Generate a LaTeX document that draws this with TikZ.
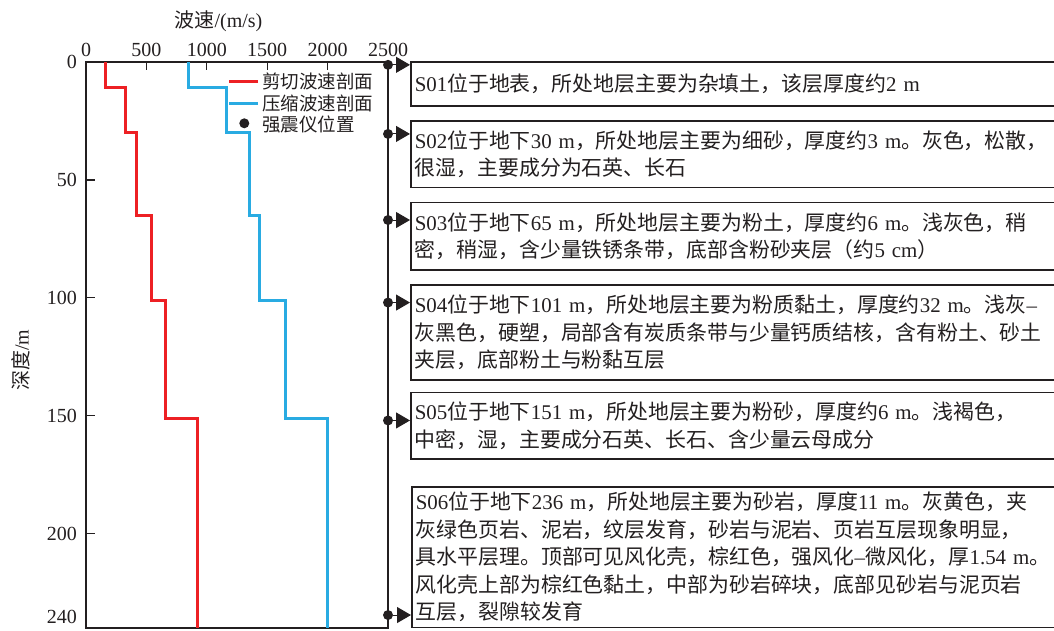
\documentclass[tikz,border=0pt]{standalone}
\usepackage{fontspec}
\setmainfont{Liberation Serif}
\newfontfamily\cjk{Noto Sans CJK SC}
\usepackage{tikz}
\usetikzlibrary{positioning, arrows.meta}
\definecolor{swave}{HTML}{ED2024}
\definecolor{pwave}{HTML}{29ABE2}
\definecolor{ink}{HTML}{231F20}
\newcommand{\zh}[1]{{\cjk #1}}

\begin{document}
\begin{tikzpicture}[x=1pt,y=-1pt,
  axis/.style={ink,line width=1.3pt},
  profile/.style={line width=3pt,line join=miter},
  lbl/.style={text=ink,inner sep=0pt,font=\fontsize{20}{24}\selectfont},
  legend/.style={text=ink,inner sep=0pt,anchor=west,font=\fontsize{18.5}{22}\selectfont},
  sensor/.style={circle,fill=ink,inner sep=0pt,minimum size=10pt},
  marker/.style={ink,line width=1pt,-{Triangle[length=14pt,width=16pt]}},
  layerbox/.style={draw=ink,line width=1.5pt,text=ink,anchor=north west,align=left,
    text width=640pt,inner xsep=4pt,inner ysep=3pt,font=\fontsize{20.9}{27.5}\selectfont}]
\useasboundingbox (0,0) rectangle (1054,630);

% axis titles
\node[lbl] (vtitle) at (218.5,21.5) {\zh{波速}/(m/s)};
\node[lbl,rotate=90] (dtitle) at (21,360) {\zh{深度}/m};

\begin{scope}[shift={(86pt,-62pt)},x=0.1208pt,y=-2.3583pt]
% frame and ticks
\draw[axis] (0,0) rectangle (2500,240);
\foreach \v in {500,1000,1500,2000} \draw[axis] (\v,0) -- (\v,3.4);
\foreach \d in {50,100,150,200} \draw[axis] (0,\d) -- (74.5,\d);
\foreach \v in {0,500,...,2500} \node[lbl] (vx\v) at (\v,-5.1) {\v};
\foreach \d in {0,50,100,150,200} \node[lbl,anchor=east] (dy\d) at (-74.5,\d) {\d};
\node[lbl,anchor=east] (dy240) at (-74.5,235.4) {240};
% shear wave profile
\draw[profile,swave] (160,0) -- (160,11) -- (325,11) -- (325,30) -- (420,30) -- (420,65)
  -- (540,65) -- (540,101) -- (655,101) -- (655,151) -- (920,151) -- (920,240);
% compression wave profile
\draw[profile,pwave] (850,0) -- (850,11) -- (1160,11) -- (1160,30) -- (1350,30) -- (1350,65)
  -- (1440,65) -- (1440,101) -- (1650,101) -- (1650,151) -- (2000,151) -- (2000,240);
% stations
\foreach \d [count=\i] in {1.2,30.5,67,102,152,234.5} \node[sensor] (s\i) at (2500,\d) {};
\end{scope}

% legend
\node[legend] (lgs) at (262,81.7) {\zh{剪切波速剖面}};
\node[legend] (lgp) at (262,103.3) {\zh{压缩波速剖面}};
\node[legend] (lgd) at (262,124) {\zh{强震仪位置}};
\draw[profile,swave] ([xshift=-4pt]lgs.west) -- ++(-29,0);
\draw[profile,pwave] ([xshift=-4pt]lgp.west) -- ++(-29,0);
\node[sensor] (lgdot) at (244.3,123.3) {};

% layer descriptions
\node[layerbox,minimum height=44pt] (b1) at (410,61)
  {S01\zh{位于地表，所处地层主要为杂填土，该层厚度约}2~m};
\node[layerbox,minimum height=66.7pt] (b2) at (410,120)
  {S02\zh{位于地下}30~m\zh{，所处地层主要为细砂，厚度约}3~m\zh{。灰色，松散，}\\
   \zh{很湿，主要成分为石英、长石}};
\node[layerbox,minimum height=67.6pt] (b3) at (410,201.7)
  {S03\zh{位于地下}65~m\zh{，所处地层主要为粉土，厚度约}6~m\zh{。浅灰色，稍}\\
   \zh{密，稍湿，含少量铁锈条带，底部含粉砂夹层（约}5~cm\zh{）}};
\node[layerbox,minimum height=95pt] (b4) at (410,284.3)
  {S04\zh{位于地下}101~m\zh{，所处地层主要为粉质黏土，厚度约}32~m\zh{。浅灰}–\\
   \zh{灰黑色，硬塑，局部含有炭质条带与少量钙质结核，含有粉土、砂土}\\
   \zh{夹层，底部粉土与粉黏互层}};
\node[layerbox,minimum height=66.6pt] (b5) at (410,391.7)
  {S05\zh{位于地下}151~m\zh{，所处地层主要为粉砂，厚度约}6~m\zh{。浅褐色，}\\
   \zh{中密，湿，主要成分石英、长石、含少量云母成分}};
\node[layerbox,minimum height=140.7pt] (b6) at (411,486)
  {S06\zh{位于地下}236~m\zh{，所处地层主要为砂岩，厚度}11~m\zh{。灰黄色，夹}\\
   \zh{灰绿色页岩、泥岩，纹层发育，砂岩与泥岩、页岩互层现象明显，}\\
   \zh{具水平层理。顶部可见风化壳，棕红色，强风化}–\zh{微风化，厚}1.54~m\zh{。}\\
   \zh{风化壳上部为棕红色黏土，中部为砂岩碎块，底部见砂岩与泥页岩}\\
   \zh{互层，裂隙较发育}};

% markers
\foreach \i in {1,...,6} \draw[marker] (s\i) -- (s\i -| b\i.west);
\end{tikzpicture}
\end{document}
